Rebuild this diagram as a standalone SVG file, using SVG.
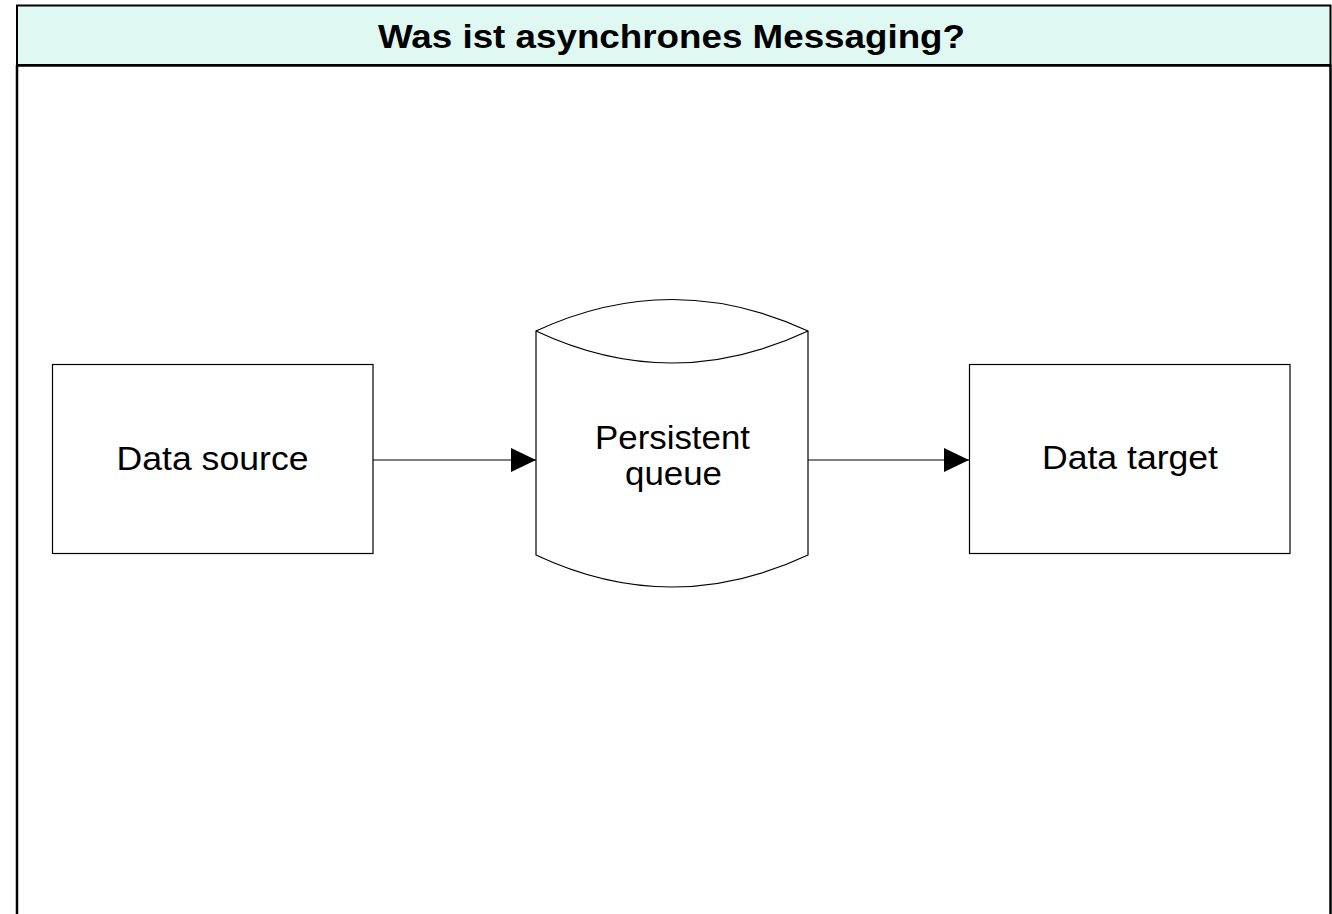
<svg xmlns="http://www.w3.org/2000/svg" width="1332" height="914" viewBox="0 0 1332 914">
  <style>
    .lbl { font-family: "Liberation Sans", Arial, sans-serif; font-size: 33px; fill: #000; text-anchor: middle; }
    .title { font-family: "Liberation Sans", Arial, sans-serif; font-size: 34px; font-weight: bold; fill: #000; text-anchor: middle; }
    .box { fill: #fff; stroke: #000; stroke-width: 1.2; }
    .conn { stroke: #000; stroke-width: 1.2; fill: none; }
  </style>
  <defs>
    <marker id="arrow" markerUnits="userSpaceOnUse" markerWidth="26" markerHeight="26" refX="25" refY="12" orient="auto">
      <path d="M0,0 L25,12 L0,24 Z" fill="#000"/>
    </marker>
  </defs>
  <rect x="0" y="0" width="1332" height="914" fill="#fff"/>
  <g id="frame">
    <rect x="17" y="5.5" width="1313.5" height="59.5" fill="#E0F8F2" stroke="#000" stroke-width="2"/>
    <line x1="17" y1="65" x2="17" y2="914" stroke="#000" stroke-width="2.5"/>
    <line x1="1330.5" y1="65" x2="1330.5" y2="914" stroke="#000" stroke-width="2.5"/>
    <line x1="17" y1="65.5" x2="1331" y2="65.5" stroke="#000" stroke-width="2.5"/>
    <text class="title" x="671.5" y="47.5" textLength="587" lengthAdjust="spacingAndGlyphs">Was ist asynchrones Messaging?</text>
  </g>
  <g id="source">
    <rect class="box" x="52.5" y="364.5" width="320.5" height="189"/>
    <text class="lbl" x="212.5" y="470" textLength="192" lengthAdjust="spacingAndGlyphs">Data source</text>
  </g>
  <g id="queue">
    <path class="box" d="M536,331 Q672,268 808,331 L808,555 Q672,619 536,555 Z"/>
    <path class="conn" d="M536,331 Q672,395 808,331"/>
    <text class="lbl" x="672.5" y="449" textLength="155" lengthAdjust="spacingAndGlyphs">Persistent</text>
    <text class="lbl" x="673.5" y="485" textLength="97" lengthAdjust="spacingAndGlyphs">queue</text>
  </g>
  <g id="target">
    <rect class="box" x="969.5" y="364.5" width="320.5" height="189"/>
    <text class="lbl" x="1130" y="469" textLength="176" lengthAdjust="spacingAndGlyphs">Data target</text>
  </g>
  <g id="connectors">
    <line class="conn" x1="373" y1="460" x2="536" y2="460" marker-end="url(#arrow)"/>
    <line class="conn" x1="808" y1="460" x2="969" y2="460" marker-end="url(#arrow)"/>
  </g>
</svg>
